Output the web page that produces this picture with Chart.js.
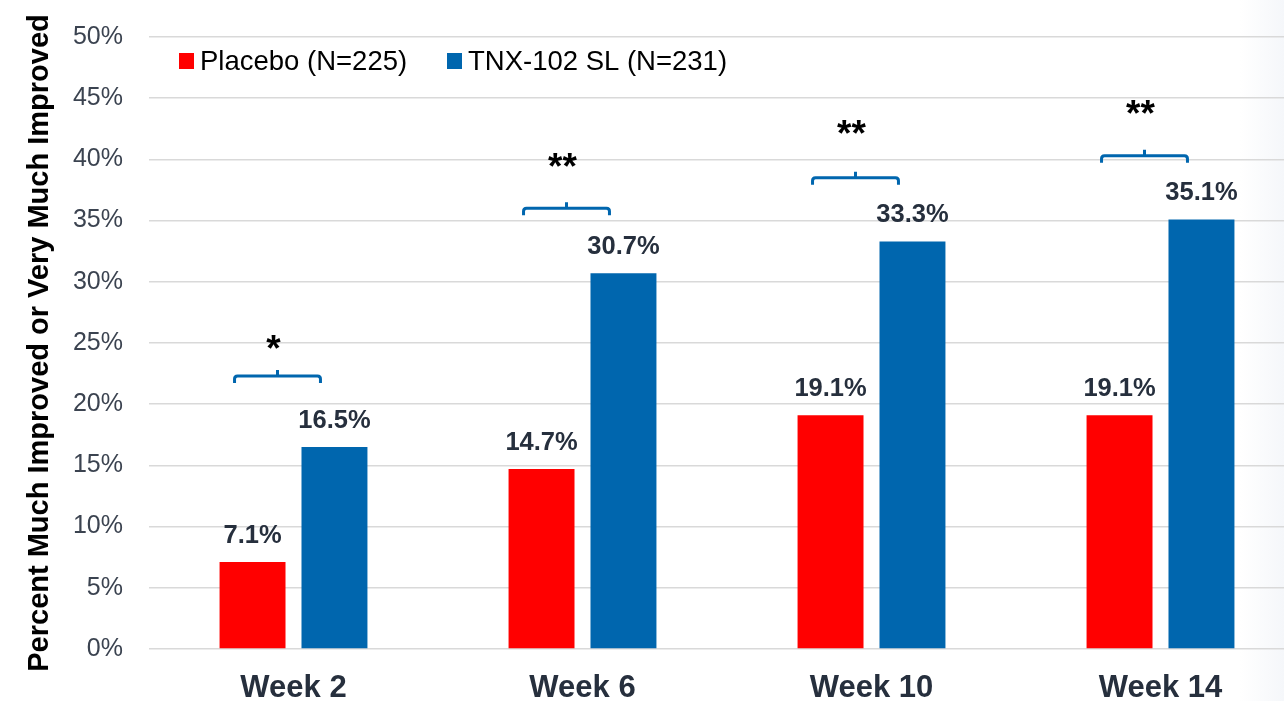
<!DOCTYPE html>
<html>
<head>
<meta charset="utf-8">
<script src="https://cdn.jsdelivr.net/npm/chart.js@4/dist/chart.umd.min.js"></script>
<style>
  html, body { margin: 0; padding: 0; overflow: hidden; }
  body {
    width: 1284px; height: 701px;
    background: linear-gradient(to right, #ffffff 0px, #ffffff 1240px, #f5f7fa 1284px);
  }
  #wrap { position: absolute; left: 0; top: 0; }
</style>
</head>
<body>
<div id="wrap"><canvas id="c" width="1306" height="701"></canvas></div>
<script>
// chart data
const weeks = ['Week 2', 'Week 6', 'Week 10', 'Week 14'];
const placebo = [7.1, 14.7, 19.1, 19.1];
const tnx = [16.5, 30.7, 33.3, 35.1];
const seriesNames = ['Placebo (N=225)', 'TNX-102 SL (N=231)'];
// significance brackets (height in %, and marks above them)
const bracketLevels = [22.3, 36.0, 38.5, 40.3];
const starLevels = [24.8, 39.7, 42.4, 44.0];
const starMarks = ['*', '**', '**', '**'];
const yTicks = [0, 5, 10, 15, 20, 25, 30, 35, 40, 45, 50];

const RED = '#ff0000';
const BLUE = '#0066ae';
const FONT = '"Liberation Sans", Arial, sans-serif';

const valueLabels = {
  id: 'valueLabels',
  afterDatasetsDraw(chart) {
    const ctx = chart.ctx;
    ctx.save();
    ctx.font = 'bold 25.5px ' + FONT;
    ctx.fillStyle = '#262f3d';
    ctx.textAlign = 'center';
    ctx.textBaseline = 'alphabetic';
    chart.data.datasets.forEach((ds, i) => {
      chart.getDatasetMeta(i).data.forEach((bar, j) => {
        ctx.fillText(ds.data[j].toFixed(1) + '%', bar.x, bar.y - 19);
      });
    });
    ctx.restore();
  }
};

const brackets = {
  id: 'brackets',
  afterDatasetsDraw(chart) {
    const ctx = chart.ctx;
    const y = chart.scales.y;
    const m0 = chart.getDatasetMeta(0).data;
    const m1 = chart.getDatasetMeta(1).data;
    ctx.save();
    weeks.forEach((w, i) => {
      const x1 = m0[i].x - 18, x2 = m1[i].x - 14;
      const by = y.getPixelForValue(bracketLevels[i]);
      const xm = (x1 + x2) / 2;
      ctx.strokeStyle = BLUE;
      ctx.lineWidth = 3;
      ctx.lineCap = 'butt';
      ctx.beginPath();
      ctx.moveTo(x1, by + 7);
      ctx.lineTo(x1, by + 3);
      ctx.quadraticCurveTo(x1, by, x1 + 3, by);
      ctx.lineTo(x2 - 3, by);
      ctx.quadraticCurveTo(x2, by, x2, by + 3);
      ctx.lineTo(x2, by + 7);
      ctx.moveTo(xm, by);
      ctx.lineTo(xm, by - 6);
      ctx.stroke();
      ctx.fillStyle = '#000';
      ctx.font = 'bold 37px ' + FONT;
      ctx.textAlign = 'center';
      ctx.textBaseline = 'alphabetic';
      ctx.fillText(starMarks[i], xm - 4, y.getPixelForValue(starLevels[i]) + 16);
    });
    ctx.restore();
  }
};

const legendInside = {
  id: 'legendInside',
  afterDraw(chart) {
    const ctx = chart.ctx;
    ctx.save();
    ctx.font = '27.5px ' + FONT;
    ctx.textBaseline = 'middle';
    const cy = 61;
    let x = 179;
    chart.data.datasets.forEach((ds) => {
      ctx.fillStyle = ds.backgroundColor;
      ctx.fillRect(x, cy - 8, 15, 16);
      ctx.fillStyle = '#000';
      ctx.fillText(ds.label, x + 21, cy + 1);
      x += 268;
    });
    ctx.restore();
  }
};

new Chart(document.getElementById('c'), {
  type: 'bar',
  data: {
    labels: weeks,
    datasets: [
      { label: seriesNames[0], data: placebo, backgroundColor: RED },
      { label: seriesNames[1], data: tnx, backgroundColor: BLUE }
    ]
  },
  options: {
    responsive: false,
    animation: false,
    devicePixelRatio: 1,
    layout: { padding: { top: 37, right: 1, left: 0, bottom: 0 } },
    datasets: { bar: { categoryPercentage: 0.567, barPercentage: 0.805 } },
    plugins: { legend: { display: false }, tooltip: { enabled: false } },
    scales: {
      x: {
        grid: { display: false },
        border: { display: false },
        ticks: { color: '#262f3d', font: { family: FONT, size: 31, weight: 'bold' }, padding: 13 },
        afterFit(s) { s.height = 52; }
      },
      y: {
        min: 0, max: 50,
        afterBuildTicks(s) { s.ticks = yTicks.map(v => ({ value: v })); },
        grid: { color: '#d9d9d9', lineWidth: 1.5, drawTicks: false },
        border: { display: false },
        ticks: {
          color: '#3b4350', font: { family: FONT, size: 25 }, padding: 26,
          callback: v => v + '%'
        },
        title: {
          display: true, text: 'Percent Much Improved or Very Much Improved',
          color: '#000', font: { family: FONT, size: 29, weight: 'bold' },
          padding: { top: 23, bottom: 0 }
        },
        afterFit(s) { s.width = 149; s.paddingTop = 0; s.paddingBottom = 0; }
      }
    }
  },
  plugins: [valueLabels, brackets, legendInside]
});
</script>
</body>
</html>
